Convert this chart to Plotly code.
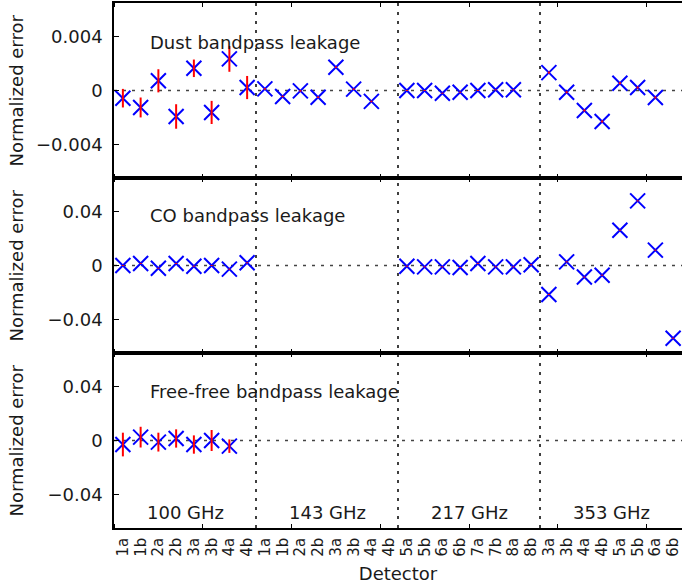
import plotly.graph_objects as go
from plotly.subplots import make_subplots

groups = ["100 GHz", "143 GHz", "217 GHz", "353 GHz"]
detectors = ["1a", "1b", "2a", "2b", "3a", "3b", "4a", "4b",
             "1a", "1b", "2a", "2b", "3a", "3b", "4a", "4b",
             "5a", "5b", "6a", "6b", "7a", "7b", "8a", "8b",
             "3a", "3b", "4a", "4b", "5a", "5b", "6a", "6b"]
group_size = 8

dust = [-0.00057, -0.00126, 0.00072, -0.00193, 0.00165, -0.00163, 0.00235, 0.00022,
        0.00012, -0.00044, -0.00003, -0.0005, 0.00173, 0.0001, -0.00081, None,
        0.0, 0.0, -0.0002, -0.00013, 0.0, 0.00005, 0.00005, None,
        0.00133, -0.00013, -0.00148, -0.0023, 0.00054, 0.00022, -0.00052, None]
dust_err = [0.00069, 0.00074, 0.00086, 0.00091, 0.00065, 0.00086, 0.00096, 0.00086,
            0.00006, 0.00006, 0.00006, 0.00006, 0.00006, 0.00006, 0.00006, 0.0,
            0.00004, 0.00004, 0.00004, 0.00004, 0.00004, 0.00004, 0.00004, 0.0,
            0.00008, 0.00008, 0.00008, 0.00008, 0.00008, 0.00008, 0.00008, 0.0]

co = [0.0, 0.0015, -0.002, 0.0015, -0.0005, 0.0, -0.0027, 0.002,
      None, None, None, None, None, None, None, None,
      -0.0005, -0.001, -0.001, -0.0015, 0.0015, -0.001, -0.001, 0.0005,
      -0.0215, 0.0027, -0.0086, -0.0072, 0.0262, 0.0480, 0.0114, -0.0540]
co_err = [0.0004] * 32

ff = [-0.003, 0.0025, -0.0012, 0.0015, -0.003, 0.0, -0.0042, None] + [None] * 24
ff_err = [0.0088, 0.0077, 0.0070, 0.0068, 0.0068, 0.0078, 0.0050, 0.0] + [0.0] * 24

panel_titles = ["Dust bandpass leakage", "CO bandpass leakage", "Free-free bandpass leakage"]
panel_ticks = [[-0.004, 0, 0.004], [-0.04, 0, 0.04], [-0.04, 0, 0.04]]
panel_ticktext = [["\u22120.004", "0", "0.004"], ["\u22120.04", "0", "0.04"], ["\u22120.04", "0", "0.04"]]
panel_range = [[-0.0065, 0.0065], [-0.065, 0.065], [-0.065, 0.065]]
title_y = [0.00356, 0.037, 0.0363]
freq_label_y = -0.0533

FONT = "DejaVu Sans"
TXT = "#1a1a1a"

x = list(range(len(detectors)))

fig = make_subplots(rows=3, cols=1, shared_xaxes=True, vertical_spacing=0)

series = [(dust, dust_err), (co, co_err), (ff, ff_err)]
for i, (vals, errs) in enumerate(series):
    r = i + 1
    fig.add_trace(go.Scatter(
        x=x, y=vals, mode="markers",
        marker=dict(symbol="x-thin", size=15, line=dict(width=2, color="#0000ff"), color="#0000ff"),
        showlegend=False, hoverinfo="skip"), row=r, col=1)
    fig.add_trace(go.Scatter(
        x=x, y=vals, mode="markers",
        marker=dict(size=1, color="rgba(0,0,0,0)"),
        error_y=dict(type="data", array=errs, visible=True, color="#ff0000", thickness=2, width=0),
        showlegend=False, hoverinfo="skip"), row=r, col=1)

minor_ticks = [k - 0.5 for k in range(0, len(detectors) + 1, 5)]

for i in range(3):
    r = i + 1
    fig.update_xaxes(
        row=r, col=1, range=[-0.5, len(detectors) - 0.5],
        tickmode="array", tickvals=x, ticktext=detectors,
        ticks="", showticklabels=(r == 3), tickangle=-90, ticklabeloverflow="allow",
        tickfont=dict(family=FONT, size=15, color=TXT),
        showline=True, linecolor="black", linewidth=1.5, mirror="allticks",
        showgrid=False, zeroline=False, ticklabelstandoff=2,
        minor=dict(tickvals=minor_ticks, ticks="inside", ticklen=4, tickcolor="black", tickwidth=1, showgrid=False),
    )
    fig.update_yaxes(
        row=r, col=1, range=panel_range[i],
        tickmode="array", tickvals=panel_ticks[i], ticktext=panel_ticktext[i],
        ticks="inside", ticklen=5, tickcolor="black", tickwidth=1,
        tickfont=dict(family=FONT, size=18, color=TXT),
        showline=True, linecolor="black", linewidth=1.5, mirror=False,
        showgrid=False, zeroline=False, ticklabelstandoff=6,
    )

fig.update_xaxes(row=3, col=1, title=dict(text="Detector", font=dict(family=FONT, size=18, color=TXT), standoff=12))

shapes = []
for i in range(3):
    ax = "" if i == 0 else str(i + 1)
    shapes.append(dict(type="line", xref=f"x{ax} domain", yref=f"y{ax}", x0=0, x1=1, y0=0, y1=0,
                       line=dict(color="#444444", width=1.5, dash="3px,6px"), layer="below"))
for g in range(1, len(groups)):
    xb = g * group_size - 0.5
    shapes.append(dict(type="line", xref="x3", yref="paper", x0=xb, x1=xb, y0=0, y1=1,
                       line=dict(color="black", width=1.5, dash="3px,6px"), layer="below"))

annotations = []
for i in range(3):
    ax = "" if i == 0 else str(i + 1)
    annotations.append(dict(text=panel_titles[i], xref=f"x{ax}", yref=f"y{ax}", x=1.4, y=title_y[i],
                            xanchor="left", yanchor="middle", showarrow=False,
                            font=dict(family=FONT, size=18, color=TXT)))
    annotations.append(dict(text="Normalized error", xref="paper", yref=f"y{ax} domain", x=-0.1725, y=0.5,
                            xanchor="center", yanchor="middle", textangle=-90, showarrow=False,
                            font=dict(family=FONT, size=18, color=TXT)))
for g, name in enumerate(groups):
    xc = g * group_size + (group_size - 1) / 2
    annotations.append(dict(text=name, xref="x3", yref="y3", x=xc, y=freq_label_y,
                            xanchor="center", yanchor="middle", showarrow=False,
                            font=dict(family=FONT, size=18, color=TXT)))

fig.update_layout(
    width=682, height=588,
    margin=dict(l=114, r=0, t=3, b=60),
    plot_bgcolor="white", paper_bgcolor="white",
    shapes=shapes, annotations=annotations,
    showlegend=False,
)

fig.write_html("out.html", config={"displayModeBar": False},
               post_script="document.body.style.margin='0';document.body.style.overflow='hidden';")
